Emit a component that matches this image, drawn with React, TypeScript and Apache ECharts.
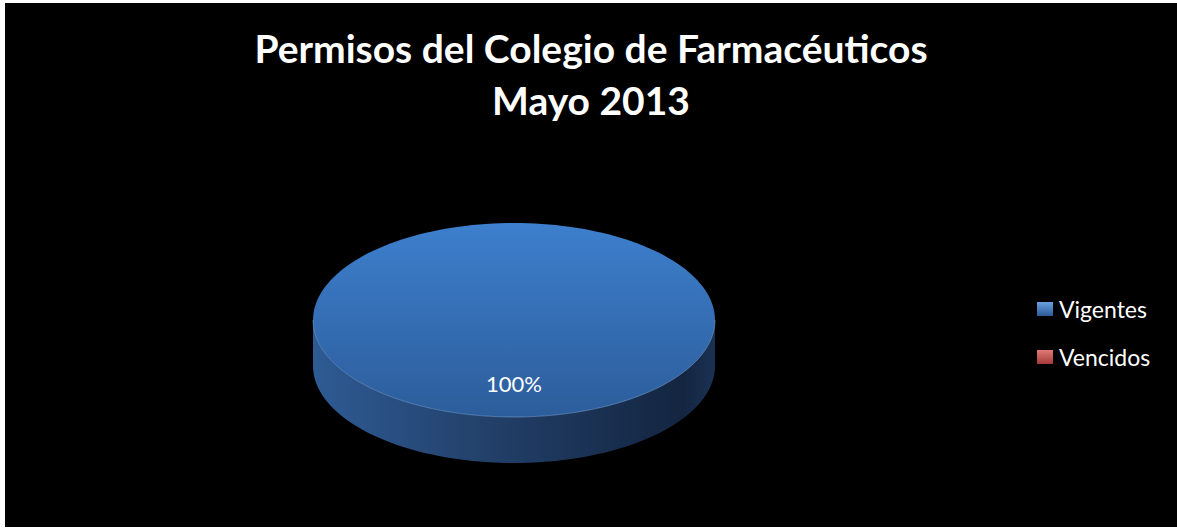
import React, { useEffect, useRef } from "react";
import * as echarts from "echarts";

// ---- data ----
const categories = ["Vigentes", "Vencidos"];
const values = [100, 0];
const titleLines = ["Permisos del Colegio de Farmacéuticos", "Mayo 2013"];

// ---- styles ----
const palette = [
  { top: ["#3d7fcd", "#2c5d9b"], side: ["#2e5b94", "#223f68", "#132540", "#1b3254"], legend: ["#6aa0e0", "#2a5a98"] },
  { top: ["#c9524f", "#9a3735"], side: ["#9a3b38", "#7a2b29", "#4c1817", "#5e201f"], legend: ["#e07a77", "#a33a37"] },
];
const FONT = "Lato, 'Open Sans', sans-serif";

const CX = 509;
const CY = 317;
const RX = 201;
const RY = 97;
const DEPTH = 46;

function pt(theta: number, dy = 0): number[] {
  // theta measured clockwise from 12 o'clock
  return [CX + RX * Math.sin(theta), CY - RY * Math.cos(theta) + dy];
}

function arc(a: number, b: number, dy = 0): number[][] {
  const n = Math.max(2, Math.ceil(((b - a) / (2 * Math.PI)) * 180));
  const out: number[][] = [];
  for (let i = 0; i <= n; i++) out.push(pt(a + ((b - a) * i) / n, dy));
  return out;
}

const total = values.reduce((s, v) => s + v, 0);

function makeRenderItem(idx: number) {
  return (params: any, api: any) => {
    const v = api.value(0);
    if (!v || v <= 0) return { type: "group", children: [] };
    let before = 0;
    for (let i = 0; i < idx; i++) before += values[i];
    const a = (before / total) * Math.PI * 2;
    const b = a + (v / total) * Math.PI * 2;
    const full = v >= total;
    const pal = palette[idx];
    const children: any[] = [];

    // side (front half: theta in [PI/2, 3PI/2])
    const sa = Math.max(a, Math.PI / 2);
    const sb = Math.min(b, (3 * Math.PI) / 2);
    if (sb > sa) {
      const topArc = arc(sa, sb);
      const botArc = arc(sa, sb, DEPTH).reverse();
      children.push({
        type: "polygon",
        shape: { points: topArc.concat(botArc) },
        style: {
          fill: new echarts.graphic.LinearGradient(1, 0, 0, 0, [
            { offset: 0, color: pal.side[3] },
            { offset: 0.08, color: pal.side[2] },
            { offset: 0.55, color: pal.side[1] },
            { offset: 1, color: pal.side[0] },
          ]),
        },
      });
    }

    // top face
    const topPts = full ? arc(0, Math.PI * 2) : [[CX, CY]].concat(arc(a, b));
    children.push({
      type: "polygon",
      shape: { points: topPts },
      style: {
        fill: new echarts.graphic.LinearGradient(0, 0, 0, 1, [
          { offset: 0, color: pal.top[0] },
          { offset: 1, color: pal.top[1] },
        ]),
      },
    });
    // subtle rim highlight on the front edge
    if (sb > sa) {
      children.push({
        type: "polyline",
        shape: { points: arc(sa, sb) },
        style: { stroke: "rgba(140,185,240,0.45)", lineWidth: 1, fill: null },
      });
    }

    // label
    const mid = (a + b) / 2;
    const lp = [CX + 0.65 * RX * Math.sin(mid), CY - 0.65 * RY * Math.cos(mid)];
    children.push({
      type: "text",
      x: lp[0],
      y: lp[1],
      style: {
        text: Math.round((v / total) * 100) + "%",
        fill: "#ffffff",
        font: `22px ${FONT}`,
        align: "center",
        verticalAlign: "middle",
      },
    });
    return { type: "group", children };
  };
}

export default function App() {
  const ref = useRef<HTMLDivElement>(null);
  useEffect(() => {
    document.body.style.margin = "0";
    if (!ref.current) return;
    const chart = echarts.init(ref.current, null, { renderer: "svg" });
    chart.setOption({
      animation: false,
      backgroundColor: "#000000",
      title: {
        text: titleLines.join("\n"),
        left: "center",
        top: 14,
        textStyle: {
          color: "#ffffff",
          fontFamily: FONT,
          fontWeight: "bold",
          fontSize: 39,
          lineHeight: 52,
        },
      },
      legend: {
        orient: "vertical",
        left: 1027,
        top: 289,
        itemWidth: 16,
        itemHeight: 14,
        itemGap: 24,
        icon: "rect",
        textStyle: { color: "#ffffff", fontFamily: FONT, fontSize: 23, lineHeight: 24, padding: [0, 0, 0, 1] },
        data: categories.map((c, i) => ({
          name: c,
          itemStyle: {
            color: new echarts.graphic.LinearGradient(0, 0, 0, 1, [
              { offset: 0, color: palette[i].legend[0] },
              { offset: 1, color: palette[i].legend[1] },
            ]),
          },
        })),
      },
      series: categories.map((c, i) => ({
        type: "custom",
        name: c,
        coordinateSystem: "none",
        itemStyle: { color: palette[i].top[1] },
        data: [[values[i]]],
        renderItem: makeRenderItem(i),
      })),
    });
    return () => chart.dispose();
  }, []);
  return (
    <div style={{ position: "relative", width: 1177, height: 529, background: "#ffffff" }}>
      <div ref={ref} style={{ position: "absolute", left: 5, top: 3, width: 1172, height: 524 }} />
    </div>
  );
}
